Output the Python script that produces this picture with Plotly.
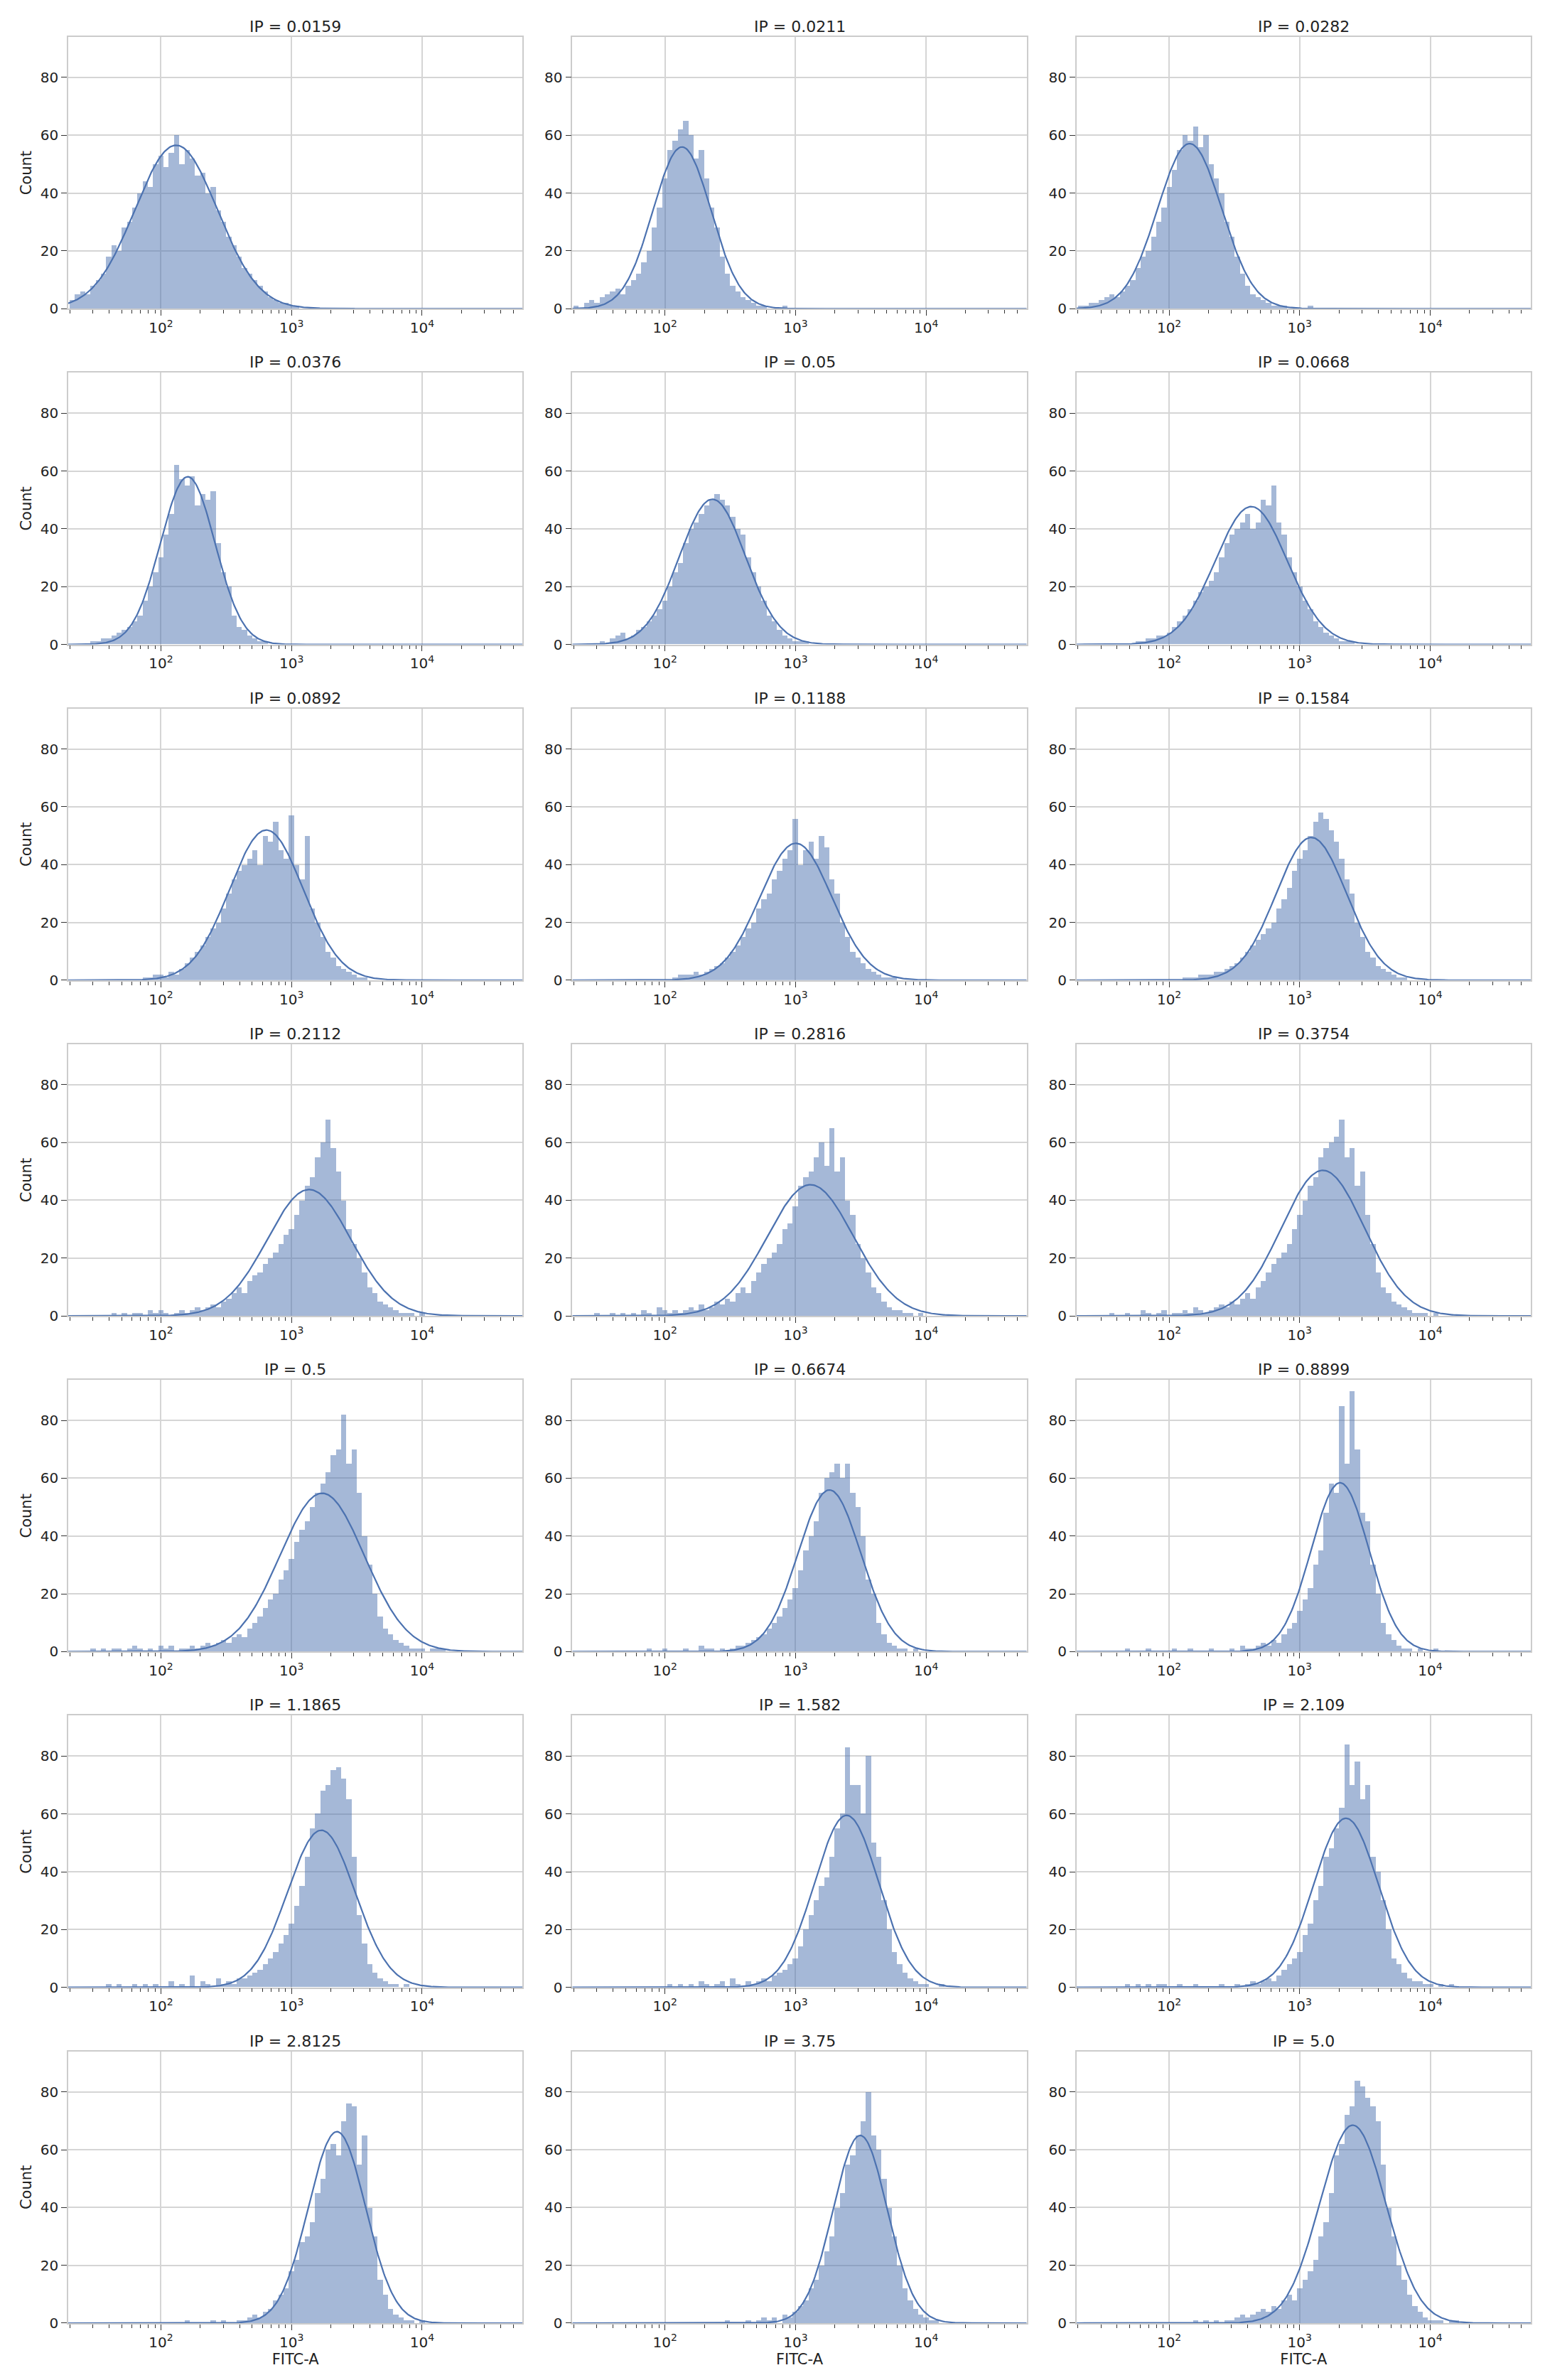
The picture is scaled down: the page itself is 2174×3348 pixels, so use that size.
import numpy as np
import plotly.graph_objects as go
from plotly.subplots import make_subplots

ip_labels = ["0.0159","0.0211","0.0282","0.0376","0.05","0.0668","0.0892","0.1188","0.1584",
             "0.2112","0.2816","0.3754","0.5","0.6674","0.8899","1.1865","1.582","2.109",
             "2.8125","3.75","5.0"]

bin_start = 1.30   # log10(FITC-A) of first bin's left edge
bin_step = 0.04

counts = [
 [3,5,6,5,8,10,12,18,22,20,28,30,35,40,44,42,50,53,49,54,60,50,55,52,46,47,40,42,34,30,25,22,18,14,12,10,8,6,4,3,2,2,1,1],
 [1,0,2,3,2,4,5,6,7,5,8,10,12,16,20,28,35,45,55,58,62,65,60,52,55,45,35,28,18,12,8,6,4,3,2,1,1,0,0,0,1],
 [1,1,2,2,3,4,5,4,6,8,10,14,18,20,25,30,35,42,48,55,60,58,63,56,60,50,45,40,30,25,18,12,8,5,4,3,2,1,1,1,0,0,0,0,1],
 [0,0,0,0,1,1,2,2,3,4,5,6,8,10,15,20,25,30,38,45,62,57,55,58,48,52,50,53,35,25,20,10,6,5,3,2,1,1],
 [0,0,0,0,0,1,0,2,3,4,2,3,5,6,8,10,12,15,20,25,28,35,40,42,45,48,50,52,50,48,44,40,38,30,25,20,15,10,8,5,3,2,1,1,1],
 [0,0,0] + [0,0,0,0,0,0,0,0,1,1,2,2,3,3,4,6,8,10,12,15,18,20,22,25,30,35,38,40,42,45,40,42,50,48,55,42,38,30,25,20,15,12,8,6,4,3,2,1,1,1],
 [0]*14 + [1,1,2,2,1,3,2,4,6,8,10,12,15,18,20,25,30,35,38,40,42,45,40,50,48,55,45,42,57,40,35,50,25,20,15,10,8,5,4,3,2,1,1],
 [0]*19 + [1,2,2,2,3,2,3,4,5,6,8,10,12,15,18,20,25,28,30,35,38,42,45,56,40,45,48,42,50,46,35,30,20,15,10,8,6,4,3,2,1,1,1],
 [0]*20 + [1,1,1,2,2,2,3,3,4,5,6,8,10,12,14,16,18,20,25,28,32,38,42,45,50,55,58,56,52,48,42,35,30,20,15,10,8,5,4,3,2,1,1],
 [0]*8 + [1,0,1,0,1,1,0,2,1,2] + [1,0,1,2,1,2,3,2,3,4,3,5,6,8,10,8,12,14,15,18,20,22,25,28,30,35,40,45,48,55,60,68,58,50,40,30,25,20,15,10,8,5,4,3,2,1,1,1,0,1],
 [0]*4 + [1,0,0,1,0,1,0,1,0,2,1,0,3,2,1,2,1,2,3,2,4,2,3,5,4,6,5,8,10,8,12,15,18,20,22,25,30,32,38,45,48,50,55,60,52,65,50,55,40,35,25,20,15,10,8,5,3,2,2,1,1,0,1],
 [0]*4 + [0,0,1,0,0,1,0,0,2,1,0,1,2,0,1,1,2,1,3,2,1,2,3,4,3,5,4,6,8,6,10,12,15,18,20,22,25,30,35,40,45,48,55,58,60,62,68,55,58,45,50,35,25,15,10,8,5,4,3,2,1,1,1,0,1],
 [0,0,0,0] + [1,0,1,0,1,1,0,1,2,1,0,1,0,2,1,2,0,1,1,2,1,2,3,2,3,4,3,5,6,5,8,10,12,15,18,20,25,28,32,38,42,45,50,55,58,62,68,70,82,65,70,55,40,30,20,12,8,6,4,3,2,1,1,1,0,1,1,1],
 [0,0,0,0,0,0,0,0,0,0,0,0,0,0,1,0,0,1,0,0,0,1,0,0,2,1,1,0,1,0,1,2,2,3,4,5,6,8,10,12,15,18,22,28,35,40,45,55,60,62,65,60,65,55,50,40,25,20,10,6,3,2,1,1,0,1],
 [0,0,0,0,0,0,0,0,0,1,0,0,0,1,0,0,0,0,1,0,0,1,0,0,0,1,0,0,0,1,0,2,1,1,2,3,2,4,3,6,8,10,14,18,22,30,35,48,58,55,85,65,90,70,48,45,30,20,10,6,4,2,1,1,0,1,0,0,1],
 [0,0] + [0,0,0,0,0,1,0,1,0,0,1,0,1,0,1,0,0,2,0,1,0,4,0,2,1,0,3,1,2,1,3,3,4,5,6,8,10,12,15,18,22,28,35,45,55,60,68,70,75,76,72,65,45,25,15,8,5,3,2,1,1,0,1],
 [0]*6 + [0,0,0,0,0,0,0,0,0,0,0,0,1,0,1,0,1,0,2,1,0,1,2,0,3,1,0,2,1,2,3,2,4,5,6,8,10,14,20,25,30,35,38,45,55,60,83,70,70,60,80,50,45,30,20,12,8,5,3,2,1,1,0,0,1],
 [0]*5 + [0,0,0,0,1,0,1,0,1,0,1,1,0,0,1,0,0,1,0,0,0,0,1,0,0,1,0,1,2,1,2,3,2,4,6,8,10,12,18,22,30,35,45,48,55,62,84,70,78,65,70,45,40,30,20,10,8,5,3,2,2,1,1,0,1,0,1],
 [0]*6 + [0,0,0,0,0,0,0,0,0,0,0,0,0,0,0,0,1,0,0,0,0,1,0,1,0,0,1,1,2,3,2,4,5,8,10,12,18,22,28,30,35,45,50,60,62,58,70,76,75,55,65,40,30,15,10,5,3,2,1,1,0,1],
 [0]*6 + [0,0,0,0,0,0,0,0,0,0,0,0,0,0,0,0,0,0,0,0,0,0,0,1,0,0,0,1,0,1,2,1,2,0,3,2,4,6,8,12,15,20,25,30,40,45,55,58,65,70,80,65,60,50,40,30,20,12,8,5,3,2,1,1],
 [0]*4 + [0,0,0,0,0,0,0,0,0,0,0,0,0,0,0,0,0,0,1,0,1,0,1,0,1,1,2,3,2,3,4,5,4,6,5,8,10,8,12,15,18,22,30,35,45,58,62,72,75,84,82,78,75,70,55,40,30,20,15,10,6,4,2,1,1,1,0,1,1],
]

major_vals = [2, 3, 4]
major_text = ["10<sup>2</sup>", "10<sup>3</sup>", "10<sup>4</sup>"]
minor_vals = [float(np.log10(k * 10.0**d)) for d in range(1, 5) for k in range(2, 10)]
xr = [1.29, 4.77]

bar_color = "rgba(76,114,176,0.5)"
line_color = "#4C72B0"
grid = "#d5d5d5"
font = "DejaVu Sans"

fig = make_subplots(rows=7, cols=3, horizontal_spacing=0.034, vertical_spacing=0.028,
                    subplot_titles=[f"IP = {s}" for s in ip_labels])

for i, c in enumerate(counts):
    r, col = i // 3 + 1, i % 3 + 1
    c = np.array(c, dtype=float)
    centers = bin_start + bin_step * (np.arange(len(c)) + 0.5)
    fig.add_trace(go.Bar(x=centers, y=c, width=bin_step, marker=dict(color=bar_color, line=dict(width=0)),
                         showlegend=False), row=r, col=col)
    n = c.sum()
    mu = (c * centers).sum() / n
    sd = np.sqrt((c * (centers - mu) ** 2).sum() / n)
    xs = np.linspace(xr[0], xr[1], 400)
    ys = n * bin_step * np.exp(-0.5 * ((xs - mu) / sd) ** 2) / (sd * np.sqrt(2 * np.pi))
    fig.add_trace(go.Scatter(x=xs, y=ys, mode="lines", line=dict(color=line_color, width=2.2),
                             showlegend=False), row=r, col=col)
    fig.update_xaxes(row=r, col=col, range=xr, tickvals=major_vals, ticktext=major_text,
                     showgrid=True, gridcolor=grid, gridwidth=1.5, ticks="outside", ticklen=8,
                     tickcolor="#333", showline=True, linecolor="#cccccc", mirror=True, linewidth=1.5,
                     zeroline=False, tickfont=dict(size=20),
                     minor=dict(tickvals=minor_vals, ticks="outside", ticklen=5, tickcolor="#333", showgrid=False),
                     title=dict(text="FITC-A" if r == 7 else "", font=dict(size=21), standoff=4))
    fig.update_yaxes(row=r, col=col, range=[0, 94], tickvals=[0, 20, 40, 60, 80],
                     showgrid=True, gridcolor=grid, gridwidth=1.5, ticks="outside", ticklen=8,
                     tickcolor="#333", showline=True, linecolor="#cccccc", mirror=True, linewidth=1.5,
                     zeroline=False, tickfont=dict(size=20),
                     title=dict(text="Count" if col == 1 else "", font=dict(size=21), standoff=6))

for a in fig.layout.annotations:
    a.font = dict(size=22, family=font, color="#222")

fig.update_layout(width=2174, height=3348, plot_bgcolor="white", paper_bgcolor="white",
                  bargap=0, font=dict(family=font, color="#222"),
                  margin=dict(l=88, r=28, t=44, b=88))
fig.write_html("out.html")
